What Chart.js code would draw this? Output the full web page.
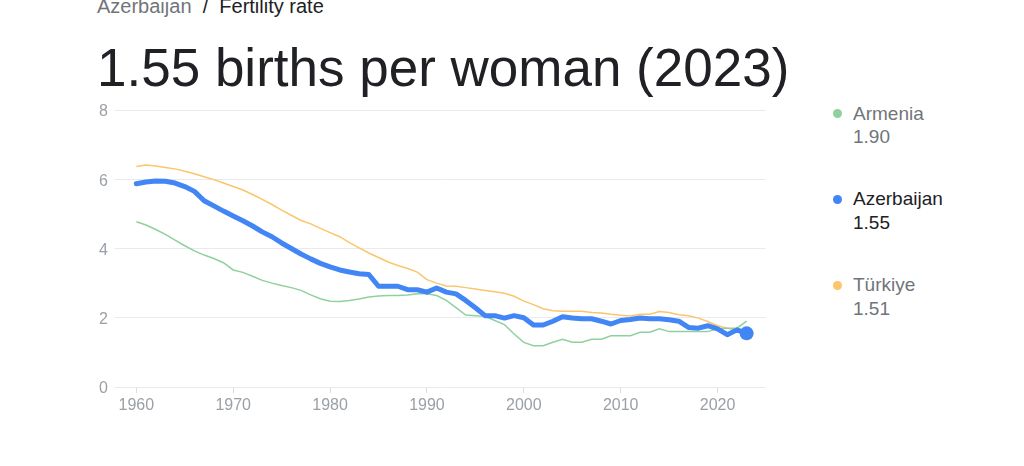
<!DOCTYPE html>
<html>
<head>
<meta charset="utf-8">
<script src="https://cdn.jsdelivr.net/npm/chart.js@4"></script>
<style>
  html, body { margin: 0; padding: 0; background: #fff; width: 1024px; height: 466px; overflow: hidden; font-family: "Liberation Sans", Arial, sans-serif; }
  #wrap { position: absolute; left: 0; top: 0; width: 780px; height: 430px; }
  .crumb { position: absolute; left: 97px; top: -4px; font-size: 20px; line-height: 20px; color: #202124; white-space: nowrap; }
  .crumb .c1 { color: #70757a; }
  .title { position: absolute; left: 97px; top: 41px; font-size: 53px; line-height: 53px; color: #202124; white-space: nowrap; }
  .leg { position: absolute; left: 853px; font-size: 19px; line-height: 23.5px; color: #70757a; white-space: nowrap; }
  .leg.active { color: #202124; }
  .leg .dot { position: absolute; left: -20px; top: 7.5px; width: 9px; height: 9px; border-radius: 50%; }
</style>
</head>
<body>
<div class="crumb"><span class="c1">Azerbaijan</span>&nbsp; / &nbsp;Fertility rate</div>
<div class="title">1.55 births per woman (2023)</div>
<div id="wrap"><canvas id="c" width="780" height="430"></canvas></div>
<div id="legend"></div>
<script>
const years = [];
for (let y = 1960; y <= 2023; y++) years.push(y);

const azerbaijan = [5.87,5.92,5.95,5.94,5.89,5.79,5.65,5.38,5.23,5.08,
  4.94,4.80,4.65,4.48,4.34,4.16,4.00,3.84,3.70,3.57,
  3.47,3.38,3.32,3.27,3.25,2.91,2.91,2.91,2.81,2.81,
  2.74,2.86,2.74,2.69,2.50,2.29,2.06,2.06,1.99,2.06,
  2.00,1.79,1.79,1.90,2.03,1.99,1.97,1.97,1.90,1.82,
  1.92,1.95,1.99,1.97,1.97,1.94,1.90,1.72,1.70,1.77,
  1.68,1.51,1.65,1.55];

const armenia = [4.77,4.68,4.55,4.41,4.24,4.08,3.93,3.81,3.71,3.59,
  3.38,3.31,3.20,3.08,3.00,2.93,2.87,2.79,2.66,2.55,
  2.48,2.47,2.50,2.54,2.60,2.63,2.64,2.64,2.66,2.69,
  2.69,2.64,2.50,2.29,2.08,2.06,2.04,1.92,1.80,1.53,
  1.29,1.19,1.19,1.29,1.38,1.29,1.29,1.38,1.38,1.48,
  1.48,1.48,1.58,1.58,1.68,1.60,1.60,1.60,1.60,1.60,
  1.68,1.70,1.70,1.90];

const turkiye = [6.37,6.41,6.38,6.34,6.30,6.23,6.16,6.07,5.99,5.89,
  5.79,5.69,5.56,5.42,5.27,5.11,4.96,4.81,4.71,4.58,
  4.46,4.34,4.17,4.02,3.87,3.74,3.61,3.51,3.42,3.32,
  3.10,3.00,2.92,2.91,2.87,2.83,2.79,2.75,2.71,2.62,
  2.48,2.38,2.26,2.20,2.19,2.19,2.19,2.15,2.14,2.10,
  2.07,2.05,2.10,2.10,2.18,2.15,2.09,2.06,1.99,1.89,
  1.77,1.70,1.63,1.51];

const xTicks = [1960, 1970, 1980, 1990, 2000, 2010, 2020];
const yTicks = [0, 2, 4, 6, 8];

const seriesNames = ["Armenia", "Azerbaijan", "Türkiye"];
const seriesLatest = ["1.90", "1.55", "1.51"];
const seriesColors = ["#8fd19e", "#4285f4", "#fbc56b"];

const toXY = arr => arr.map((v, i) => ({ x: years[i], y: v }));
const lastIdx = years.length - 1;

new Chart(document.getElementById('c'), {
  type: 'line',
  data: {
    datasets: [
      { label: seriesNames[1], data: toXY(azerbaijan), borderColor: seriesColors[1], backgroundColor: seriesColors[1],
        borderWidth: 5, pointRadius: azerbaijan.map((_, i) => i === lastIdx ? 7 : 0), pointBorderWidth: 0,
        tension: 0, order: 0, borderJoinStyle: 'round', borderCapStyle: 'round' },
      { label: seriesNames[0], data: toXY(armenia), borderColor: seriesColors[0], borderWidth: 1.5,
        pointRadius: 0, tension: 0, order: 1 },
      { label: seriesNames[2], data: toXY(turkiye), borderColor: seriesColors[2], borderWidth: 1.5,
        pointRadius: 0, tension: 0, order: 2 }
    ]
  },
  options: {
    responsive: false,
    devicePixelRatio: 1,
    animation: false,
    events: [],
    layout: { padding: { top: 110, right: 14, left: 0, bottom: 0 } },
    plugins: { legend: { display: false }, tooltip: { enabled: false } },
    scales: {
      x: {
        type: 'linear', min: 1957.8, max: 2025,
        afterBuildTicks: s => { s.ticks = xTicks.map(v => ({ value: v })); },
        afterFit: s => { s.height = 43; },
        grid: { drawOnChartArea: false, drawTicks: true, tickLength: 6, color: '#dadce0' },
        border: { display: false },
        ticks: { color: '#9aa0a6', font: { family: 'Liberation Sans', size: 16 }, padding: 3, maxRotation: 0,
          callback: v => String(v) }
      },
      y: {
        min: 0, max: 8,
        afterBuildTicks: s => { s.ticks = yTicks.map(v => ({ value: v })); },
        afterFit: s => { s.width = 115; },
        grid: { drawTicks: false, color: '#e8eaed', lineWidth: 1 },
        border: { display: false },
        ticks: { color: '#9aa0a6', font: { family: 'Liberation Sans', size: 16 }, padding: 7, labelOffset: 2 }
      }
    }
  }
});

const legend = document.getElementById('legend');
const legTops = [101.7, 187, 273];
seriesNames.forEach((n, i) => {
  const d = document.createElement('div');
  d.className = 'leg' + (i === 1 ? ' active' : '');
  d.style.top = legTops[i] + 'px';
  d.innerHTML = '<span class="dot" style="background:' + seriesColors[i] + '"></span>' + n + '<br>' + seriesLatest[i];
  legend.appendChild(d);
});
</script>
</body>
</html>
